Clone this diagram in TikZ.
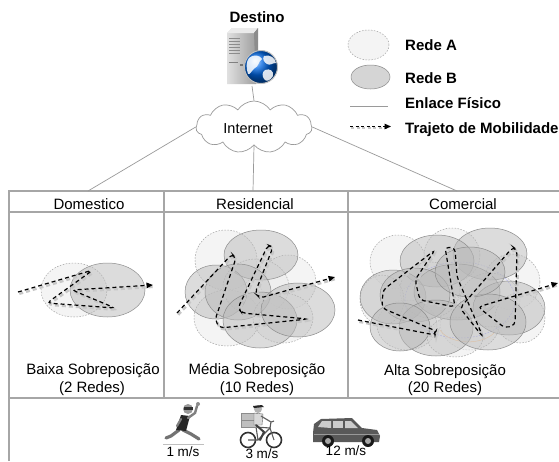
\documentclass[tikz,border=0pt]{standalone}
\usepackage{fontspec}
\setmainfont{Liberation Sans}
\usetikzlibrary{shapes.symbols,arrows.meta}

\definecolor{tableline}{HTML}{A6A6A6}
\definecolor{linkgray}{HTML}{9A9A9A}
\definecolor{netAfill}{HTML}{EDEDED}
\definecolor{netBfill}{HTML}{BABABA}

\tikzset{
  redeA/.style={draw=black!35, dash pattern=on 1.6pt off 1.4pt, line width=0.5pt,
                fill=netAfill, fill opacity=0.6},
  redeB/.style={draw=black!45, line width=0.5pt, fill=netBfill, fill opacity=0.5},
  mobpath/.style={draw=black, line width=1.2pt, dash pattern=on 4pt off 3pt,
                  rounded corners=4pt},
  mobshadow/.style={draw=black!22, line width=2.4pt, dash pattern=on 4pt off 3pt,
                    rounded corners=4pt, shift={(1.3,1.8)}},
  tipA/.style={-{Triangle[length=6.5pt,width=5.5pt]}},
  tbl/.style={draw=tableline, line width=1.3pt},
  link/.style={draw=linkgray, line width=0.7pt},
  txt/.style={font=\fontsize{15}{18}\selectfont, anchor=base, inner sep=0pt},
  btxt/.style={font=\fontsize{15}{18}\selectfont\bfseries, anchor=base west, inner sep=0pt},
  spd/.style={font=\fontsize{13.5}{16}\selectfont, anchor=base, inner sep=0pt},
}

% mobility paths of the three scenarios
\def\pathdom{(18,292) -- (93,270) -- (47,303) -- (115,308) -- (72,290) -- (153,285)}
\def\pathres{(177,313) -- (232,254) -- (236,258) -- (215,320) -- (220,328) -- (308,319)
  -- (242,313) -- (238,308) -- (268,245) -- (273,247) -- (255,293) -- (260,298) -- (335,277)}
\def\pathcom{(358,320) -- (435,335) -- (436,331) -- (382,308) -- (383,290) -- (435,250)
  -- (415,280) -- (420,300) -- (455,307) -- (445,247) -- (455,248) -- (457,277)
  -- (483,337) -- (460,308) -- (513,247) -- (517,250) -- (515,325) -- (505,328)
  -- (478,307) -- (558,283)}

\begin{document}
\begin{tikzpicture}[x=1pt,y=-1pt]
\useasboundingbox (0,0) rectangle (559,461);
\fill[white] (0,0) rectangle (559,461);

% ---------------- destination server ----------------
\node[font=\fontsize{15}{18}\selectfont\bfseries, anchor=base, inner sep=0pt] (dest) at (257,22) {Destino};
\coordinate (srv) at (252,86);
\shade[left color=black!12, right color=black!40] (227,33) -- (232,28) -- (258,28) -- (256,33) -- (256,84) -- (227,84) -- cycle;
\fill[black!8] (227,33) -- (232,28) -- (258,28) -- (254,33) -- cycle;
\fill[black!45] (254,33) -- (258,28) -- (258,80) -- (256,84) -- cycle;
\foreach \yy in {38,41,44,47,50,53}
  \draw[black!45, line width=0.6pt] (229,\yy) -- (240,\yy);
\draw[black!50, line width=0.6pt] (229,62) -- (238,62);
\fill[black!55] (240,64) rectangle (243,66);
% globe
\begin{scope}
  \shade[ball color=blue!55!cyan!90!black] (261,67) circle (16.5pt);
  \clip (261,67) circle (16.5pt);
  \fill[white, opacity=0.85] (249,58) .. controls (253,54) and (260,55) .. (262,59)
    .. controls (258,62) and (259,66) .. (255,68) .. controls (252,70) and (250,75) .. (248,74)
    .. controls (246,68) and (246,62) .. (249,58) -- cycle;
  \fill[white, opacity=0.85] (264,56) .. controls (270,54) and (275,58) .. (276,63)
    .. controls (272,63) and (270,66) .. (267,64) .. controls (264,62) and (262,59) .. (264,56) -- cycle;
  \fill[white, opacity=0.85] (265,70) .. controls (270,68) and (274,71) .. (273,76)
    .. controls (270,81) and (266,82) .. (264,79) .. controls (262,76) and (262,72) .. (265,70) -- cycle;
\end{scope}
\draw[black!25, line width=1pt] (261,67) circle (16.5pt);

% ---------------- Internet cloud ----------------
\node[cloud, cloud puffs=11, cloud puff arc=115, aspect=2.3, draw=linkgray, fill=white,
      line width=0.7pt, minimum width=116pt, minimum height=52pt, inner sep=0pt,
      font=\fontsize{14.5}{17}\selectfont] (inet) at (254,127) {};
\node[font=\fontsize{14.5}{17}\selectfont, inner sep=0pt] (inetlbl) at (248,129) {Internet};
\draw[link] (srv) -- (inet.north);

% ---------------- legend ----------------
\path[redeA] (368.5,45) ellipse [x radius=20.5pt, y radius=15pt];
\path[redeB, fill opacity=0.6] (370.5,77) ellipse [x radius=19.5pt, y radius=12pt];
\coordinate (ls1) at (350,106.5); \coordinate (le1) at (388,106.5);
\draw[link] (ls1) -- (le1);
\coordinate (ls2) at (350,126.5); \coordinate (le2) at (391,126.5);
\draw[draw=black!22, line width=2.2pt, dash pattern=on 3pt off 2.5pt] ([shift={(1,1.5)}]ls2) -- ([shift={(-4,1.5)}]le2);
\draw[line width=1.2pt, dash pattern=on 3pt off 2.5pt, tipA] (ls2) -- (le2);
\node[btxt] (lgA) at (405,50) {Rede A};
\node[btxt] (lgB) at (405,83) {Rede B};
\node[btxt] (lgL) at (405,108) {Enlace Físico};
\node[btxt] (lgT) at (405,133) {Trajeto de Mobilidade};

% ---------------- table ----------------
\draw[tbl] (9,461) -- (9,191) -- (559,191);
\draw[tbl] (9,212) -- (559,212);
\draw[tbl] (9,398) -- (559,398);
\draw[tbl] (164,191) -- (164,398);
\draw[tbl] (348,191) -- (348,398);
\node[txt] (hdom) at (89,209) {Domestico};
\node[txt] (hres) at (255,209) {Residencial};
\node[txt] (hcom) at (463,209) {Comercial};

% links from the Internet to each scenario
\coordinate (ta) at (88,191);
\coordinate (tb) at (253,191);
\coordinate (tc) at (457,191);
\draw[link] (inet.west) -- (ta);
\draw[link] (inet.south) -- (tb);
\draw[link] (inet.east) -- (tc);

% ---------------- Domestico: 2 networks ----------------
\path[redeA] (74,290) ellipse [x radius=33pt, y radius=27pt];
\path[redeB] (107.5,290) ellipse [x radius=37.5pt, y radius=27pt];
\draw[mobshadow] \pathdom;
\draw[mobpath, tipA] \pathdom;
\node[txt] (ldom1) at (93,374) {Baixa Sobreposição};
\node[txt] (ldom2) at (92,392) {(2 Redes)};

% ---------------- Residencial: 10 networks ----------------
\path[redeA] (226,260) ellipse [x radius=31pt, y radius=30pt];
\path[redeA] (288,282) ellipse [x radius=28pt, y radius=27pt];
\path[redeA] (227,318) ellipse [x radius=33pt, y radius=28pt];
\path[redeA] (256,287) ellipse [x radius=33pt, y radius=28pt];
\path[redeA] (283,318) ellipse [x radius=30pt, y radius=25pt];
\path[redeB] (261,255) ellipse [x radius=37pt, y radius=25pt];
\path[redeB] (216,292) ellipse [x radius=31pt, y radius=27pt];
\path[redeB] (238,292) ellipse [x radius=33pt, y radius=28pt];
\path[redeB] (260,320) ellipse [x radius=37pt, y radius=28pt];
\path[redeB] (298,310) ellipse [x radius=37pt, y radius=27pt];
\draw[mobshadow] \pathres;
\draw[mobpath, tipA] \pathres;
\node[txt] (lres1) at (257,374) {Média Sobreposição};
\node[txt] (lres2) at (257,392) {(10 Redes)};

% ---------------- Comercial: 20 networks ----------------
\path[redeA] (398,262) ellipse [x radius=28pt, y radius=27pt];
\path[redeA] (452,255) ellipse [x radius=28pt, y radius=27pt];
\path[redeA] (512,282) ellipse [x radius=28pt, y radius=28pt];
\path[redeA] (407,325) ellipse [x radius=30pt, y radius=25pt];
\path[redeA] (470,322) ellipse [x radius=30pt, y radius=28pt];
\path[redeA] (430,290) ellipse [x radius=30pt, y radius=28pt];
\path[redeA] (490,300) ellipse [x radius=30pt, y radius=27pt];
\path[redeA] (382,300) ellipse [x radius=22pt, y radius=25pt];
\path[redeA] (455,337) ellipse [x radius=28pt, y radius=20pt];
\path[redeA] (520,318) ellipse [x radius=25pt, y radius=25pt];
\draw[blue!35, line width=0.5pt, dash pattern=on 1.6pt off 1.4pt] (460,300) ellipse [x radius=55pt, y radius=38pt];
\draw[orange!40, line width=0.5pt] (440,330) arc[start angle=200, end angle=330, x radius=30pt, y radius=18pt];
\path[redeB] (490,254) ellipse [x radius=37pt, y radius=26pt];
\path[redeB] (437,261) ellipse [x radius=37pt, y radius=26pt];
\path[redeB] (393,297) ellipse [x radius=33pt, y radius=27pt];
\path[redeB] (457,292) ellipse [x radius=43pt, y radius=28pt];
\path[redeB] (415,295) ellipse [x radius=35pt, y radius=27pt];
\path[redeB] (509,308) ellipse [x radius=36pt, y radius=27pt];
\path[redeB] (436,328) ellipse [x radius=37pt, y radius=28pt];
\path[redeB] (488,322) ellipse [x radius=38pt, y radius=28pt];
\path[redeB] (470,272) ellipse [x radius=35pt, y radius=25pt];
\path[redeB] (400,327) ellipse [x radius=30pt, y radius=24pt];
\draw[mobshadow] \pathcom;
\draw[mobpath, tipA] \pathcom;
\node[txt] (lcom1) at (445,375) {Alta Sobreposição};
\node[txt] (lcom2) at (445,392) {(20 Redes)};

% ---------------- mobility types ----------------
% pedestrian
\draw[black!25, line width=0.6pt] (163,444) -- (204,444);
\draw[black!55, line width=3.2pt, line cap=round] (179,430) -- (171,436) -- (166,438);
\draw[black!55, line width=3.2pt, line cap=round] (183,430) -- (191,434) -- (199,439);
\fill[black!85] (181,415) -- (190,416) -- (186,431) -- (176,430) -- cycle;
\draw[black!50, line width=2.4pt, line cap=round] (188,418) -- (195,413) -- (197,406);
\draw[black!50, line width=2.2pt, line cap=round] (181,419) -- (177,426);
\fill[black!45] (198,404) circle (2pt);
\fill[black!40] (188,409) circle (5pt);
\fill[black!80] (184,407) rectangle (193,409.5);
\node[spd] (v1) at (183,456.5) {1 m/s};

% cyclist
\draw[black!80, line width=1.6pt] (248,440) circle (7.5pt);
\draw[black!80, line width=1.6pt] (274,440) circle (7.5pt);
\draw[black!65, line width=1.1pt] (248,440) -- (258,440) -- (270,428) -- (274,440);
\draw[black!65, line width=1.1pt] (258,440) -- (256,427) -- (270,428) -- (271,422) -- (274,421);
\fill[black!25] (241,413) rectangle (256,427);
\draw[black!45, line width=0.5pt] (241,413) rectangle (256,427) (241,420) -- (256,420);
\fill[black!15] (254,413) -- (263,414) -- (262,425) -- (254,425) -- cycle;
\draw[black!60, line width=0.4pt] (254,413) -- (263,414) -- (262,425) -- (254,425) -- cycle;
\draw[black!60, line width=1.2pt] (261,416) -- (271,422);
\draw[black!75, line width=2pt, line cap=round] (256,425) -- (264,432) -- (260,440);
\fill[black!30] (258,409) circle (4pt);
\fill[black!85] (253,406) -- (262,405) -- (264,407) -- (254,408) -- cycle;
\node[spd] (v2) at (262,458) {3 m/s};

% car
\fill[black!65] (313,433) -- (314,424) -- (321,419) -- (352,418) -- (362,428)
  -- (377,430) -- (380,436) -- (379,442) -- (313,442) -- cycle;
\fill[black!20] (318,427) -- (322,421) -- (331,421) -- (331,428) -- cycle;
\fill[black!20] (333,421) -- (343,421) -- (343,428) -- (333,428) -- cycle;
\fill[black!20] (345,421) -- (351,421) -- (358,428) -- (345,428) -- cycle;
\draw[black!40, line width=0.5pt] (314,434) -- (379,434);
\fill[black!90] (328,441) circle (6pt);
\fill[black!35] (328,441) circle (3pt);
\fill[black!90] (368,441) circle (6pt);
\fill[black!35] (368,441) circle (3pt);
\node[spd] (v3) at (346,455) {12 m/s};
\end{tikzpicture}
\end{document}
